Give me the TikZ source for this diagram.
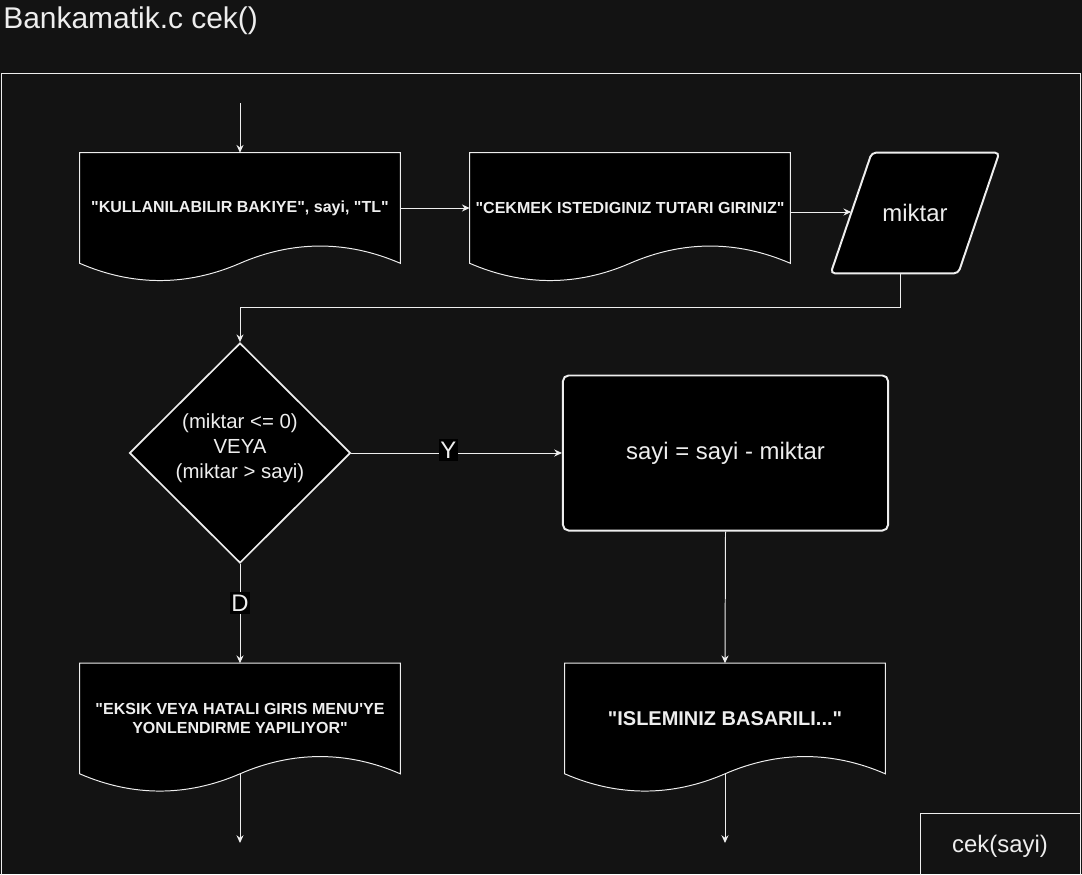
\documentclass[tikz,border=0pt]{standalone}
\usepackage{fontspec}
\setmainfont{Liberation Sans}[Ligatures=TeXOff]
\usepackage{tikz}
\usetikzlibrary{arrows.meta,shapes.geometric,positioning,calc,backgrounds}

\definecolor{bgc}{RGB}{19,19,19}
\definecolor{fgc}{RGB}{238,238,238}

\tikzset{
	flow/.style={draw=fgc, line width=0.7pt, -{Stealth[length=5.5pt,width=5pt]}},
	docbox/.style={rectangle, minimum width=8cm, minimum height=2.75cm, inner sep=0pt, align=center, text=fgc, font=\bfseries\fontsize{11.4pt}{13.6pt}\selectfont},
	docline/.style={draw=fgc, fill=black, line width=0.7pt},
	decision/.style={diamond, draw=fgc, fill=black, line width=1.2pt, minimum width=5.525cm, minimum height=5.5cm, inner sep=0pt, align=center, text depth=0.33cm, text=fgc, font=\fontsize{14.5pt}{17.8pt}\selectfont},
	inout/.style={rectangle, minimum width=4.2cm, minimum height=3cm, inner sep=0pt, text=fgc, font=\fontsize{17pt}{20pt}\selectfont},
	inline/.style={draw=fgc, fill=black, line width=1.4pt, rounded corners=3pt},
	proc/.style={rectangle, rounded corners=4pt, draw=fgc, fill=black, line width=1.4pt, minimum width=8.125cm, minimum height=3.875cm, text=fgc, font=\fontsize{17pt}{20pt}\selectfont},
	yn/.style={fill=black, text=fgc, inner xsep=1pt, inner ysep=2pt, yshift=2pt, font=\fontsize{17pt}{20pt}\selectfont}
}

\begin{document}
\begin{tikzpicture}[x=0.025cm, y=-0.025cm]
	\useasboundingbox (0,0) rectangle (1082,874);

	\node[anchor=base west, text=fgc, inner sep=0pt, font=\fontsize{21.3pt}{25pt}\selectfont] (title) at (3,29) {Bankamatik.c cek()};

	\coordinate (start) at (240,103);
	\coordinate (end1) at (240,843);
	\coordinate (end2) at (725,843);

	\node[docbox] (doc1) at (240,208) {"KULLANILABILIR BAKIYE", sayi, "TL"};
	\node[docbox] (doc2) at (630,208) {"CEKMEK ISTEDIGINIZ TUTARI GIRINIZ"};
	\node[inout] (miktar) at (915,213) {miktar};
	\node[decision] (dec) at (240,453) {(miktar <= 0)\\VEYA\\(miktar > sayi)};
	\node[proc] (proc) at (725.5,453) {sayi = sayi - miktar};
	\node[docbox] (doc3) at (240,718.5) {"EKSIK VEYA HATALI GIRIS MENU'YE\\YONLENDIRME YAPILIYOR"};
	\node[docbox, font=\bfseries\fontsize{14.2pt}{17pt}\selectfont] (doc4) at (725,718.5) {"ISLEMINIZ BASARILI..."};
	\node[draw=fgc, line width=0.7pt, minimum width=4cm, minimum height=1.675cm, text=fgc, font=\fontsize{17pt}{20pt}\selectfont] (cekbox) at (1000,846.5) {cek(sayi)};

	\coordinate (miktarin) at ($(miktar.west)+(20.5,-1)$);
	\coordinate (miktarout) at ($(miktar.south)+(-15,0)$);

	\draw[flow] (start) -- (doc1.north);
	\draw[flow] (doc1.east) -- (doc2.west);
	\draw[flow] (doc2.east |- miktarin) -- (miktarin);
	\draw[flow] (miktarout) |- ($(dec.north)+(0,-35)$) -- (dec.north);
	\draw[flow] (dec.east) -- node[yn, pos=0.46] {Y} (proc.west);
	\draw[flow] (dec.south) -- node[yn, pos=0.42] {D} (doc3.north);
	\draw[flow] (proc.south) -- (doc4.north);
	\draw[flow] (doc3.south) -- (end1);
	\draw[flow] (doc4.south) -- (end2);

	\begin{scope}[on background layer]
		\fill[bgc] (0,0) rectangle (1082,874);
		\draw[fgc, line width=0.7pt] (1,73) rectangle (1080,890);
		\foreach \d in {doc1,doc2,doc3,doc4}
			\filldraw[docline] (\d.north west) -- (\d.north east) -- (\d.south east)
				.. controls ($(\d.south east)+(-53,-23)$) and ($(\d.south)+(53,-23)$) .. (\d.south)
				.. controls ($(\d.south)+(-53,23)$) and ($(\d.south west)+(53,23)$) .. (\d.south west) -- cycle;
		\filldraw[inline] ($(miktar.north west)+(41,0)$) -- (miktar.north east)
			-- ($(miktar.south east)+(-41,0)$) -- (miktar.south west) -- cycle;
	\end{scope}
\end{tikzpicture}
\end{document}
